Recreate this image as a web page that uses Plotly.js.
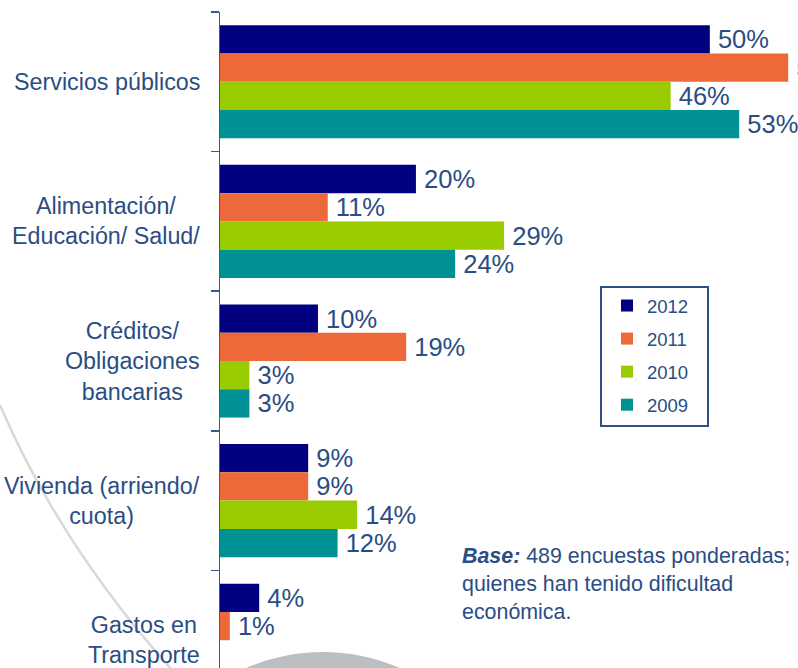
<!DOCTYPE html>
<html>
<head>
<meta charset="utf-8">
<script src="https://cdn.plot.ly/plotly-3.0.1.min.js"></script>
<style>
  html, body { margin: 0; padding: 0; overflow: hidden; background: #fff; }
  #chart { width: 798px; height: 668px; }
</style>
</head>
<body>
<div id="chart"></div>
<script>
// ---- Data ----
const categories = [
  "Servicios públicos",
  "Alimentación/<br>Educación/ Salud/",
  "Créditos/<br>Obligaciones<br>bancarias",
  "Vivienda (arriendo/<br>cuota)",
  "Gastos en<br>Transporte"
];
const seriesNames = ["2012", "2011", "2010", "2009"];
const v2012 = [50, 20, 10, 9, 4];
const v2011 = [58, 11, 19, 9, 1];
const v2010 = [46, 29, 3, 14, null];
const v2009 = [53, 24, 3, 12, null];
const baseNote = "<b><i>Base:</i></b> 489 encuestas ponderadas;<br>quienes han tenido dificultad<br>económica.";

// ---- Styles ----
const colors = ["#000080", "#EE693A", "#99CC00", "#009194"];
const textColor = "#2A4D83";
const FONT = "Liberation Sans, Arial, sans-serif";

const W = 798, H = 668, ML = 220, MR = 0, MT = 12, MB = 0;
const PW = W - ML - MR, PH = H - MT - MB;
const px = x => (x - ML) / PW;          // pixel -> paper x
const py = y => (H - MB - y) / PH;      // pixel -> paper y

const allVals = [v2012, v2011, v2010, v2009];
const traces = allVals.map((vals, i) => ({
  type: "bar",
  orientation: "h",
  name: seriesNames[i],
  legendgroup: seriesNames[i],
  y: categories,
  x: vals,
  marker: { color: colors[i], line: { width: 0 } },
  text: vals.map(v => v == null ? "" : "\u2009" + v + "%"),
  textposition: "outside",
  textfont: { family: FONT, size: 25.5, color: textColor },
  constraintext: "none",
  cliponaxis: false,
  hoverinfo: "skip"
}));

const catAnnots = categories.map(c => ({
  xref: "paper", yref: "y",
  x: 0, y: c,
  xanchor: "right", yanchor: "middle",
  xshift: -18,
  align: "center",
  showarrow: false,
  text: c,
  font: { family: FONT, size: 23.3, color: textColor }
}));

const layout = {
  width: W, height: H,
  margin: { l: ML, r: MR, t: MT, b: MB, pad: 0 },
  paper_bgcolor: "rgba(0,0,0,0)",
  plot_bgcolor: "rgba(0,0,0,0)",
  barmode: "group",
  bargap: 0.19,
  bargroupgap: 0,
  font: { family: FONT, color: textColor },
  xaxis: {
    visible: false,
    range: [0, 59],
    fixedrange: true
  },
  yaxis: {
    type: "category",
    range: [4.199, -0.5],
    showticklabels: false,
    ticks: "outside",
    tickson: "boundaries",
    ticklen: 8,
    tickwidth: 1.5,
    tickcolor: "#3A5A8C",
    showline: true,
    linecolor: "#3A5A8C",
    linewidth: 1.5,
    showgrid: false,
    zeroline: false,
    fixedrange: true
  },
  showlegend: true,
  legend: {
    x: px(607), y: py(287),
    xanchor: "left", yanchor: "top",
    bgcolor: "rgba(0,0,0,0)",
    borderwidth: 0,
    traceorder: "grouped",
    tracegroupgap: 6,
    font: { family: FONT, size: 18.5, color: textColor }
  },
  shapes: [
    // background decoration: light arc
    {
      type: "path", xref: "paper", yref: "paper", layer: "below",
      path: `M ${px(0)} ${py(405)} Q ${px(60)} ${py(545)} ${px(172)} ${py(670)}`,
      line: { color: "#D9D9D9", width: 2.5 }
    },
    // background decoration: gray disc
    {
      type: "circle", xref: "paper", yref: "paper", layer: "below",
      x0: px(130), x1: px(516), y0: py(1038), y1: py(652),
      fillcolor: "#BDBEC0", line: { width: 0 }
    },
    // legend frame
    {
      type: "rect", xref: "paper", yref: "paper",
      x0: px(601), x1: px(708), y0: py(426), y1: py(287),
      line: { color: "#2E5185", width: 2 }, fillcolor: "rgba(0,0,0,0)"
    }
  ],
  annotations: catAnnots.concat([{
    xref: "paper", yref: "paper",
    x: px(460), y: py(584),
    xanchor: "left", yanchor: "middle",
    align: "left",
    showarrow: false,
    text: baseNote,
    font: { family: FONT, size: 21.4, color: textColor }
  }])
};

Plotly.newPlot("chart", traces, layout, { displayModeBar: false, staticPlot: true });
</script>
</body>
</html>
